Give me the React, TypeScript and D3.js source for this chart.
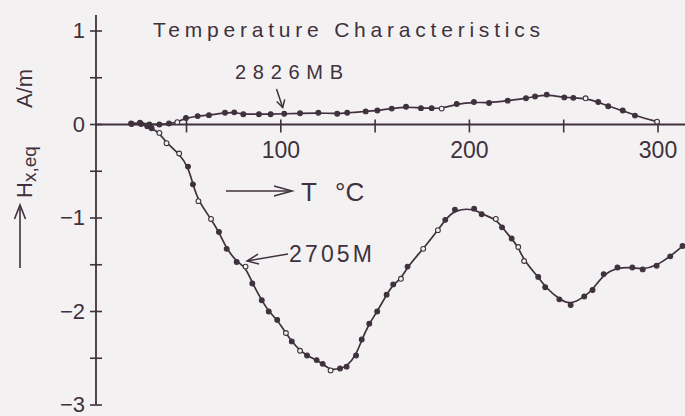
import React from 'react';
import { scaleLinear, line, curveBasis } from 'd3';

// 2826MB, T (°C) and H (A/m)
const upperT = [20.6, 25.3, 30.3, 35.6, 40.7, 45.1, 49.7, 55.9, 61.9, 70.4, 75.3, 80.1, 88.4, 94.6, 101.8, 110.2, 119.9, 129.9, 135.2, 145, 151.2, 158.8, 166.4, 174.3, 180, 185.3, 193.3, 202.4, 210.4, 220.3, 230, 234.8, 241, 250.3, 255.1, 261.6, 268.3, 273.6, 281.3, 287.8, 299.5];
const upperH = [0.01, 0.02, 0, 0, 0.01, 0.025, 0.07, 0.09, 0.1, 0.125, 0.13, 0.11, 0.11, 0.11, 0.115, 0.12, 0.125, 0.115, 0.125, 0.14, 0.15, 0.17, 0.19, 0.175, 0.175, 0.17, 0.22, 0.24, 0.23, 0.255, 0.28, 0.3, 0.32, 0.29, 0.285, 0.28, 0.24, 0.195, 0.15, 0.095, 0.03];
const upperOpen = [5, 25, 35, 40];

// 2705M
const lowerT = [20.9, 25.9, 29.2, 31.5, 35.6, 39.4, 46.1, 50.8, 53.4, 56.3, 63, 67.2, 71.3, 76.6, 81.3, 84.9, 89.9, 93.6, 98.1, 102.7, 105.8, 110.2, 113.9, 119, 122.2, 126.4, 131.4, 134.9, 139.9, 142.9, 146.9, 151.1, 156.1, 159.6, 163.7, 167.2, 175.5, 183.3, 187.2, 192.3, 202.5, 206.5, 214, 217.3, 222.4, 225.9, 229, 236.5, 240.2, 247.7, 253.7, 260.9, 265.3, 271.2, 278.5, 286.4, 291.9, 299.3, 306.5, 313];
const lowerH = [0.005, 0.005, -0.02, -0.04, -0.09, -0.2, -0.31, -0.45, -0.64, -0.82, -1.01, -1.15, -1.33, -1.47, -1.52, -1.7, -1.88, -2.0, -2.09, -2.23, -2.32, -2.42, -2.47, -2.52, -2.56, -2.63, -2.61, -2.59, -2.47, -2.3, -2.13, -2.0, -1.82, -1.71, -1.65, -1.52, -1.33, -1.13, -1.02, -0.91, -0.9, -0.96, -1.01, -1.1, -1.22, -1.31, -1.46, -1.63, -1.74, -1.87, -1.93, -1.84, -1.77, -1.6, -1.53, -1.53, -1.55, -1.51, -1.41, -1.3];
const lowerOpen = [4, 5, 6, 9, 10, 14, 19, 21, 25, 34, 36, 37, 42, 45, 46];

const yTicks = [1, 0.5, 0, -0.5, -1, -1.5, -2, -2.5, -3];
const yTickLabels = ['1', '0', '−1', '−2', '−3'];
const yLabelValues = [1, 0, -1, -2, -3];
const xTicks = [50, 100, 150, 200, 250, 300];
const xLabelValues = [100, 200, 300];

const ink = '#3f323d';
const bg = '#f4f1f3';
const font = '"Liberation Sans", Arial, sans-serif';

const App: React.FC = () => {
  const W = 685;
  const H = 416;
  const x = scaleLinear().domain([2, 300]).range([96, 658]);
  const y = scaleLinear().domain([1, -3]).range([31, 405]);

  const upper = upperT.map((t, i) => [t, upperH[i]] as [number, number]);
  const lower = lowerT.map((t, i) => [t, lowerH[i]] as [number, number]);

  const path = line<[number, number]>()
    .x(d => x(d[0]))
    .y(d => y(d[1]))
    .curve(curveBasis);

  const x0 = x(2);
  const y0 = y(0);

  const markers = (pts: [number, number][], open: number[]) =>
    pts.map((d, i) => {
      const o = open.includes(i);
      return (
        <circle key={i} cx={x(d[0])} cy={y(d[1])} r={2.4}
          fill={o ? bg : ink} stroke={ink} strokeWidth={1.1} />
      );
    });

  // annotation arrows
  const tip1 = [x(101), y(0.14)];
  const tip2 = [x(80.5), y(-1.46)];

  return (
    <svg width={W} height={H} style={{ position: 'absolute', left: 0, top: 0 }}
      fontFamily={font}>
      <rect width={W} height={H} fill={bg} />

      {/* axes */}
      <line x1={x0} x2={W} y1={y0} y2={y0} stroke={ink} strokeWidth={1.8} />
      <line x1={x0} x2={x0} y1={15} y2={y(-3)} stroke={ink} strokeWidth={1.8} />
      {yTicks.map(v => (
        <line key={v} x1={x0 - 6} x2={x0 + 6} y1={y(v)} y2={y(v)} stroke={ink} strokeWidth={1.6} />
      ))}
      {yLabelValues.map((v, i) => (
        <text key={v} x={85} y={y(v)} dy="0.34em" textAnchor="end" fontSize={22} fill={ink}>
          {yTickLabels[i]}
        </text>
      ))}
      {xTicks.map(v => (
        <line key={v} x1={x(v)} x2={x(v)} y1={y0 - 5} y2={y0 + 8} stroke={ink} strokeWidth={1.6} />
      ))}
      {xLabelValues.map(v => (
        <text key={v} x={x(v)} y={158} textAnchor="middle" fontSize={23} fill={ink}>{v}</text>
      ))}

      {/* title */}
      <text x={153} y={37} fontSize={21} fill={ink} textLength={387} lengthAdjust="spacing">
        Temperature Characteristics
      </text>

      {/* y label */}
      <g transform="translate(32,198) rotate(-90)">
        <text x={0} y={0} fontSize={22} fill={ink}>
          H<tspan fontSize={19} dy={4}>x,eq</tspan>
        </text>
        <text x={90} y={0} fontSize={22} fill={ink}>A/m</text>
      </g>
      <line x1={20} x2={20} y1={268} y2={206} stroke={ink} strokeWidth={1.6} />
      <polyline points="14.5,219 20,205 25.5,219" fill="none" stroke={ink} strokeWidth={1.6} />

      {/* T axis label */}
      <line x1={226} x2={291} y1={191} y2={191} stroke={ink} strokeWidth={1.6} />
      <polyline points="274,186 292,191 274,196" fill="none" stroke={ink} strokeWidth={1.6} />
      <text x={301} y={201} fontSize={26} fill={ink}>T</text>
      <text x={335} y={201} fontSize={26} fill={ink}>°C</text>

      {/* curves */}
      <path d={path(upper) ?? ''} fill="none" stroke={ink} strokeWidth={1.7} />
      <path d={path(lower) ?? ''} fill="none" stroke={ink} strokeWidth={1.7} />
      {markers(upper, upperOpen)}
      {markers(lower, lowerOpen)}

      {/* annotations */}
      <text x={235} y={79} fontSize={20} fill={ink} textLength={108} lengthAdjust="spacing">2826MB</text>
      <line x1={276.5} y1={89} x2={tip1[0]} y2={tip1[1] - 4} stroke={ink} strokeWidth={1.5} />
      <polyline points={`${tip1[0] - 6},${tip1[1] - 10} ${tip1[0]},${tip1[1] - 4} ${tip1[0] + 2},${tip1[1] - 12}`}
        fill="none" stroke={ink} strokeWidth={1.5} />

      <text x={289} y={262} fontSize={23} fill={ink} textLength={83} lengthAdjust="spacing">2705M</text>
      <line x1={288} y1={254} x2={tip2[0] + 3} y2={tip2[1]} stroke={ink} strokeWidth={1.5} />
      <polyline points={`${tip2[0] + 14},${tip2[1] - 7} ${tip2[0] + 3},${tip2[1]} ${tip2[0] + 15},${tip2[1] + 3}`}
        fill="none" stroke={ink} strokeWidth={1.5} />
    </svg>
  );
};

export default App;
